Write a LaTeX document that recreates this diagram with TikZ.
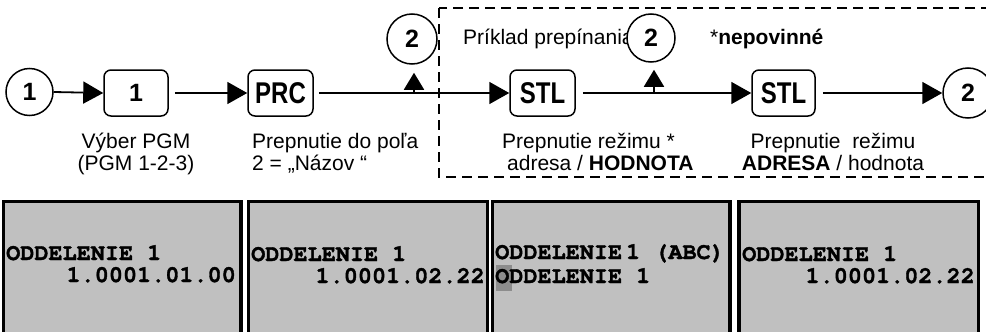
\documentclass[tikz,border=0pt]{standalone}
\usepackage{fontspec}
\setmainfont{Liberation Sans}
\newfontfamily\dispfont{texgyrecursor}[Extension=.otf,UprightFont=*-regular,BoldFont=*-bold,BoldFeatures={FakeBold=1.5}]
\usetikzlibrary{arrows.meta}
\definecolor{lcd}{HTML}{C0C0C0}
\definecolor{hl}{HTML}{8C8C8C}
\tikzset{
  conn/.style={line width=1.8pt,-{Triangle[length=20pt,width=22pt]}},
  upconn/.style={line width=1.8pt,-{Triangle[length=17pt,width=20pt]}},
  keybox/.style={draw,line width=1.5pt,rounded corners=7pt,minimum height=46pt,inner sep=0pt},
  marker/.style={draw,circle,line width=1.5pt,fill=white,inner sep=0pt,font=\fontsize{25}{25}\selectfont\bfseries},
  lbl/.style={inner sep=0pt,font=\fontsize{21}{22}\selectfont},
  lcdbox/.style={draw,line width=3.5pt,fill=lcd},
  lcdtxt/.style={inner sep=0pt,font=\fontsize{23.5}{23.5}\dispfont\bfseries}
}
\newcommand{\keytext}[1]{\scalebox{1}[1.25]{\fontsize{24}{24}\selectfont\bfseries #1}}
\begin{document}
\begin{tikzpicture}[x=1pt,y=-1pt]
\useasboundingbox (0,0) rectangle (986,332);
\fill[white] (0,0) rectangle (986,332);
% dashed region
\draw[line width=2pt,dash pattern=on 10pt off 6pt] (439,8) rectangle (1010,177);
\node[lbl,anchor=base west] (ex) at (463,45) {Príklad prepínania};
\node[lbl,anchor=base west] (opt) at (710,45) {*\textbf{nepovinné}};
% flow nodes
\node[marker,minimum size=47pt] (c1) at (29.5,92) {1};
\node[keybox,minimum width=64pt] (k1) at (136,93) {\fontsize{25}{25}\selectfont\bfseries 1};
\node[keybox,minimum width=65pt] (prc) at (280.5,93) {\keytext{PRC}};
\node[keybox,minimum width=65pt] (stl1) at (542.5,93) {\keytext{STL}};
\node[keybox,minimum width=63pt] (stl2) at (783.5,93) {\keytext{STL}};
\node[marker,minimum size=50pt] (c2end) at (968,93) {2};
\node[marker,minimum size=50pt] (c2a) at (412,39) {2};
\node[marker,minimum size=48pt] (c2b) at (651,38) {2};
\coordinate (j1) at (414,92);
\coordinate (j2) at (654,92);
% connectors
\draw[conn] (c1.east) -- (k1.west);
\draw[conn,shorten <=6pt] (k1.east) -- (prc.west);
\draw[conn,shorten <=5pt] (prc.east) -- (stl1.west);
\draw[conn,shorten <=7pt] (stl1.east) -- (stl2.west);
\draw[conn,shorten <=7pt] (stl2.east) -- (c2end.west);
\draw[upconn,shorten >=8pt] (j1) -- (j1 |- c2a.south);
\draw[upconn,shorten >=7pt] (j2) -- (j2 |- c2b.south);
% labels (base anchor = baseline of the last line)
\node[lbl,anchor=base,align=center] (l1) at (136,170) {Výber PGM\\(PGM 1-2-3)};
\node[lbl,anchor=base west,align=left] (l2) at (252,170) {Prepnutie do poľa\\2 = „Názov “};
\node[lbl,anchor=base west,align=left] (l3) at (502,170) {Prepnutie režimu *\\\hspace*{5pt}adresa / \textbf{HODNOTA}};
\node[lbl,anchor=base,align=center] (l4) at (833,170) {Prepnutie\ \ režimu\\\textbf{ADRESA} / hodnota};
% displays
\draw[lcdbox] (3.5,201.5) rectangle (241,350);
\draw[lcdbox] (248.5,201.5) rectangle (487.5,350);
\draw[lcdbox] (492.5,201.5) rectangle (730,350);
\draw[lcdbox] (739,201.5) rectangle (978.5,350);
\fill[hl] (496,265) rectangle (512,291);
\node[lcdtxt,anchor=base west] (a1) at (6,260) {ODDELENIE 1};
\node[lcdtxt,anchor=base east] (a2) at (236,282) {1.0001.01.00};
\node[lcdtxt,anchor=base west] (b1) at (251,261) {ODDELENIE 1};
\node[lcdtxt,anchor=base east] (b2) at (485,283) {1.0001.02.22};
\node[lcdtxt,anchor=base west] (cc1) at (495,259) {ODDELENIE\kern4pt 1 (ABC)};
\node[lcdtxt,anchor=base west] (cc2) at (495,283) {ODDELENIE 1};
\node[lcdtxt,anchor=base west] (d1) at (742,261) {ODDELENIE 1};
\node[lcdtxt,anchor=base east] (d2) at (975,283) {1.0001.02.22};
\end{tikzpicture}
\end{document}
